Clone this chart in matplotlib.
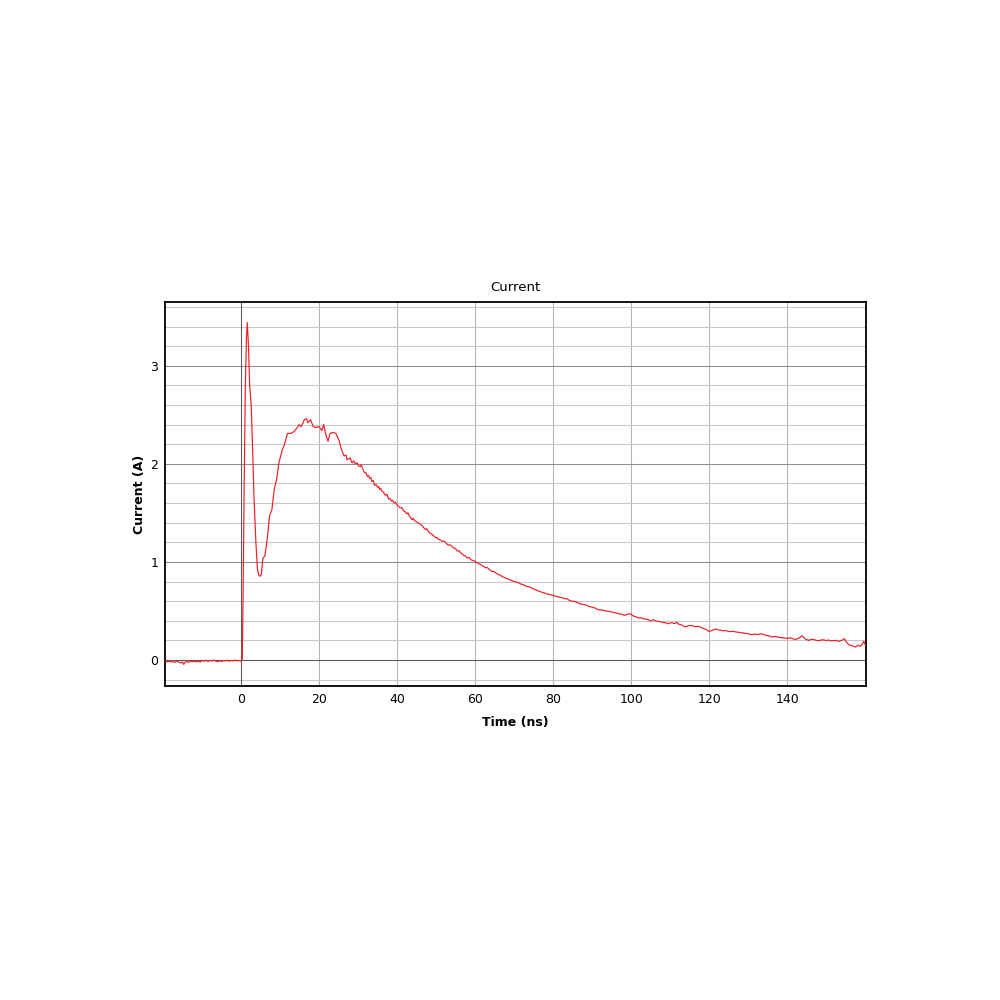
import matplotlib
matplotlib.use("Agg")
import matplotlib.pyplot as plt
from matplotlib.ticker import MultipleLocator

# ---- data (time in ns, current in A) ----
# baseline before the trigger
base_t = [
    -19.5, -19.0, -18.5, -18.0, -17.5, -17.0, -16.5, -16.0, -15.5, -15.0,
    -14.7, -14.3, -14.0, -13.5, -13.0, -12.5, -12.0, -11.5, -11.0, -10.5,
    -10.0, -9.5, -9.0, -8.5, -8.0, -7.5, -7.0, -6.5, -6.0, -5.5,
    -5.0, -4.5, -4.0, -3.5, -3.0, -2.5, -2.0, -1.5, -1.0, -0.5,
    0.0, 0.3,
]
base_i = [
    -0.010, -0.020, -0.012, -0.020, -0.015, -0.025, -0.012, -0.020, -0.030, -0.020,
    -0.045, -0.020, -0.012, -0.025, -0.010, -0.018, -0.012, -0.020, -0.015, -0.020,
    -0.005, -0.012, -0.002, -0.015, -0.005, -0.010, 0.000, -0.012, -0.018, -0.008,
    -0.015, -0.005, -0.010, -0.002, -0.012, -0.005, -0.010, 0.000, -0.008, -0.005,
    -0.010, 0.000,
]

# spike and second hump
pulse_t = [
    0.5, 0.8, 1.1, 1.4, 1.6, 1.9, 2.2, 2.6, 3.0, 3.3,
    3.8, 4.2, 4.5, 4.8, 5.2, 5.6, 6.1, 6.7, 7.3, 7.9,
    8.5, 9.1, 9.7, 10.6, 11.0, 11.9, 12.7, 13.6, 14.4, 14.9,
    15.4, 15.9, 16.2, 16.8, 17.1, 17.4, 17.8, 18.5, 19.1, 20.0,
    20.7, 21.2, 21.7, 22.3, 22.8, 23.6, 24.3, 25.1, 25.7,
]
pulse_i = [
    0.60, 1.80, 2.80, 3.30, 3.44, 3.20, 2.80, 2.59, 2.10, 1.67,
    1.20, 0.92, 0.87, 0.853, 0.87, 1.04, 1.06, 1.23, 1.47, 1.53,
    1.74, 1.84, 2.01, 2.15, 2.18, 2.31, 2.31, 2.33, 2.37, 2.40,
    2.38, 2.42, 2.45, 2.46, 2.42, 2.43, 2.45, 2.38, 2.37, 2.38,
    2.34, 2.40, 2.30, 2.23, 2.31, 2.32, 2.31, 2.24, 2.15,
]

# decaying tail
tail_t = [
    26.4, 26.9, 27.2, 27.5, 28.0, 28.3, 28.5, 28.9, 29.3, 29.8,
    30.1, 30.5, 30.8, 31.1, 31.4, 31.6, 32.0, 32.4, 32.7, 33.0,
    33.3, 33.5, 33.9, 34.2, 34.6, 35.0, 35.3, 35.5, 35.8, 36.1,
    36.5, 37.0, 37.4, 37.8, 38.1, 38.5, 38.8, 39.2, 39.6, 39.9,
    40.3, 40.8, 41.2, 41.7, 42.1, 42.5, 42.8, 43.1, 43.5, 43.8,
    44.1, 44.5, 44.9, 45.3, 45.8, 46.4, 46.8, 47.3, 47.6, 48.0,
    48.3, 48.5, 48.9, 49.2, 49.6, 49.9, 50.2, 50.6, 51.0, 51.5,
    51.9, 52.4, 52.8, 53.2, 53.6, 54.0, 54.3, 54.7, 55.1, 55.5,
    55.9, 56.3, 56.7, 57.1, 57.5, 58.0, 58.5, 59.0, 59.5, 60.0,
    60.5, 61.0, 61.4, 61.8, 62.2, 62.6, 63.0, 63.5, 63.9, 64.3,
    64.8, 65.2, 65.6, 66.0, 66.5, 66.9, 67.3, 67.7, 68.2, 68.8,
    69.4, 70.0, 70.6, 71.2, 71.7, 72.2, 72.7, 73.2, 73.7, 74.2,
    74.7, 75.2, 75.6, 76.1, 76.6, 77.1, 77.6, 78.1, 78.6, 79.1,
    79.6, 80.1, 80.6, 81.2, 81.7, 82.3, 82.9, 83.5, 84.1, 84.8,
    85.4, 86.0, 86.6, 87.2, 87.8, 88.5, 89.1, 89.8, 90.3, 90.8,
    91.2, 91.7, 92.3, 92.9, 93.5, 94.2, 94.8, 95.5, 96.1, 96.8,
    97.5, 98.3, 99.0, 99.8, 100.3, 100.8, 101.4, 101.9, 102.5, 103.2,
    103.8, 104.5, 104.9, 105.5, 106.0, 106.5, 107.1, 107.7, 108.3, 109.0,
    109.6, 110.1, 110.6, 111.2, 111.7, 112.2, 112.8, 113.3, 113.9, 114.7,
    115.6, 116.4, 117.3, 118.0, 118.6, 119.3, 119.9, 120.7, 121.6, 122.3,
    122.9, 123.5, 124.2, 125.1, 126.1, 127.0, 128.0, 128.7, 129.5, 130.2,
    131.0, 131.7, 132.5, 133.5, 134.2, 134.8, 135.5, 136.1, 137.0, 137.8,
    138.6, 139.5, 140.2, 140.8, 141.5, 142.1, 142.9, 143.8, 144.6, 145.5,
    146.1, 146.8, 147.5, 148.1, 148.8, 149.4, 150.0, 150.6, 151.2, 151.9,
    152.5, 153.2, 153.9, 154.7, 155.2, 155.8, 156.6, 157.5, 158.1, 158.8,
    159.2, 159.6, 160.0,
]
tail_i = [
    2.08, 2.09, 2.04, 2.05, 2.06, 2.02, 2.01, 2.03, 2.00, 2.01,
    1.98, 1.97, 1.99, 1.96, 1.93, 1.91, 1.91, 1.87, 1.88, 1.85,
    1.86, 1.82, 1.83, 1.78, 1.79, 1.76, 1.77, 1.74, 1.75, 1.72,
    1.71, 1.68, 1.69, 1.64, 1.65, 1.62, 1.63, 1.60, 1.61, 1.585,
    1.57, 1.55, 1.555, 1.52, 1.51, 1.49, 1.50, 1.47, 1.45, 1.43,
    1.445, 1.42, 1.41, 1.40, 1.39, 1.37, 1.35, 1.33, 1.34, 1.31,
    1.30, 1.29, 1.285, 1.27, 1.26, 1.245, 1.25, 1.23, 1.225, 1.21,
    1.215, 1.20, 1.18, 1.17, 1.175, 1.16, 1.15, 1.14, 1.13, 1.11,
    1.115, 1.09, 1.085, 1.064, 1.06, 1.04, 1.045, 1.02, 1.015, 1.006,
    0.99, 0.98, 0.975, 0.96, 0.955, 0.94, 0.945, 0.93, 0.915, 0.90,
    0.905, 0.89, 0.88, 0.87, 0.865, 0.85, 0.845, 0.837, 0.83, 0.82,
    0.81, 0.80, 0.795, 0.786, 0.775, 0.77, 0.76, 0.75, 0.748, 0.74,
    0.73, 0.72, 0.715, 0.705, 0.70, 0.69, 0.685, 0.68, 0.67, 0.67,
    0.662, 0.66, 0.65, 0.645, 0.64, 0.635, 0.625, 0.625, 0.61, 0.60,
    0.598, 0.59, 0.578, 0.57, 0.565, 0.56, 0.548, 0.54, 0.535, 0.53,
    0.518, 0.513, 0.51, 0.505, 0.50, 0.496, 0.49, 0.485, 0.48, 0.472,
    0.468, 0.455, 0.465, 0.472, 0.455, 0.445, 0.438, 0.428, 0.43, 0.42,
    0.418, 0.410, 0.398, 0.41, 0.405, 0.395, 0.394, 0.388, 0.382, 0.378,
    0.370, 0.38, 0.378, 0.372, 0.384, 0.365, 0.360, 0.35, 0.337, 0.35,
    0.352, 0.34, 0.343, 0.33, 0.320, 0.31, 0.292, 0.30, 0.316, 0.308,
    0.305, 0.298, 0.300, 0.29, 0.292, 0.285, 0.280, 0.275, 0.272, 0.265,
    0.258, 0.265, 0.260, 0.268, 0.255, 0.250, 0.243, 0.235, 0.24, 0.232,
    0.228, 0.224, 0.22, 0.228, 0.215, 0.210, 0.22, 0.248, 0.215, 0.200,
    0.21, 0.210, 0.2, 0.197, 0.205, 0.205, 0.198, 0.204, 0.195, 0.198,
    0.2, 0.190, 0.2, 0.217, 0.18, 0.156, 0.145, 0.133, 0.15, 0.140,
    0.16, 0.190, 0.156,
]

x_ticks = [0, 20, 40, 60, 80, 100, 120, 140]
y_ticks = [0, 1, 2, 3]

time_ns = base_t + pulse_t + tail_t
current_a = base_i + pulse_i + tail_i

# ---- figure ----
fig = plt.figure(figsize=(10, 10), dpi=100)
ax = fig.add_axes([0.165, 0.314, 0.701, 0.384])

ax.set_xlim(-19.5, 160.2)
ax.set_ylim(-0.265, 3.65)

ax.yaxis.set_minor_locator(MultipleLocator(0.2))
ax.set_xticks(x_ticks)
ax.set_yticks(y_ticks)
ax.grid(axis="y", which="minor", color="#c8c8c8", linewidth=0.75)
ax.grid(axis="y", which="major", color="#8c8c8c", linewidth=0.75)
ax.grid(axis="x", which="major", color="#b4b4b4", linewidth=0.75)
ax.axhline(0, color="#5a5a5a", linewidth=0.75, zorder=1.5)
ax.axvline(0, color="#5a5a5a", linewidth=0.75, zorder=1.5)
ax.set_axisbelow(True)

ax.plot(time_ns, current_a, color="#ee1c24", linewidth=0.85, zorder=3)

ax.tick_params(axis="both", which="both", length=0, labelsize=9, pad=5)
for sp in ax.spines.values():
    sp.set_color("black")
    sp.set_linewidth(1.3)

ax.set_title("Current", fontsize=9.5, pad=8)
ax.set_xlabel("Time (ns)", fontsize=9, fontweight="bold", labelpad=7)
ax.set_ylabel("Current (A)", fontsize=9, fontweight="bold", labelpad=3)

fig.savefig("out.png", dpi=100, facecolor="white")
